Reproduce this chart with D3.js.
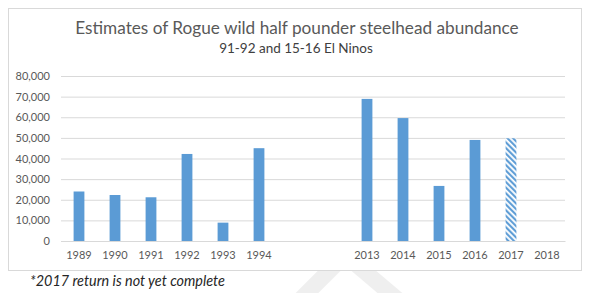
<!DOCTYPE html>
<html>
<head>
<meta charset="utf-8">
<script src="https://cdn.jsdelivr.net/npm/d3@7"></script>
<style>
  body { margin: 0; background: #fff; }
  svg { display: block; font-family: Lato, "Open Sans", sans-serif; }
</style>
</head>
<body>
<div id="root"></div>
<script>
const WIDTH = 590;
const HEIGHT = 293;

// slots: two empty ones between 1994 and 2013
const years = ["1989", "1990", "1991", "1992", "1993", "1994", "gap1", "gap2",
    "2013", "2014", "2015", "2016", "2017", "2018"];
const abundance = [24000, 22300, 21200, 42200, 8900, 45000, null, null,
    68900, 59600, 26700, 49000, 49800, null];
const incompleteYears = ["2017"];
const yTicks = [0, 10000, 20000, 30000, 40000, 50000, 60000, 70000, 80000];

const title = "Estimates of Rogue wild half pounder steelhead abundance";
const subtitle = "91-92 and 15-16 El Ninos";
const footnote = "*2017 return is not yet complete";

const data = years.map((y, i) => ({year: y, value: abundance[i]}))
    .filter(d => d.value !== null);

const xScale = d3.scaleBand()
    .domain(years)
    .range([61, 565])
    .paddingInner(0.7)
    .paddingOuter(0.35);

const yScale = d3.scaleLinear()
    .domain([0, 80000])
    .range([241, 76]);

const svg = d3.select("#root")
    .append("svg")
    .attr("width", WIDTH)
    .attr("height", HEIGHT);

// hatch for the incomplete year
const pattern = svg.append("defs")
    .append("pattern")
    .attr("id", "hatch")
    .attr("patternUnits", "userSpaceOnUse")
    .attr("width", 4)
    .attr("height", 4)
    .attr("patternTransform", "rotate(-45)");
pattern.append("rect")
    .attr("width", 4)
    .attr("height", 4)
    .attr("fill", "#fff");
pattern.append("line")
    .attr("x1", 1.1).attr("y1", 0)
    .attr("x2", 1.1).attr("y2", 4)
    .attr("stroke", "#5b9bd5")
    .attr("stroke-width", 2.1);

// faint watermark peeking out under the chart frame
svg.append("g")
    .attr("stroke", "#efefef")
    .attr("stroke-width", 16)
    .selectAll("line")
    .data([[345, 255, 290, 310], [345, 255, 410, 310]])
    .join("line")
    .attr("x1", d => d[0]).attr("y1", d => d[1])
    .attr("x2", d => d[2]).attr("y2", d => d[3]);

svg.append("rect")
    .attr("x", 8.5)
    .attr("y", 8.5)
    .attr("width", 573)
    .attr("height", 262)
    .attr("fill", "#fff")
    .attr("stroke", "#d9d9d9");

svg.append("text")
    .attr("x", 297)
    .attr("y", 34)
    .attr("text-anchor", "middle")
    .attr("font-size", 17.2)
    .attr("fill", "#595959")
    .text(title);

svg.append("text")
    .attr("x", 296)
    .attr("y", 53)
    .attr("text-anchor", "middle")
    .attr("font-size", 13.5)
    .attr("fill", "#404040")
    .text(subtitle);

// gridlines + y labels
const yAxis = d3.axisLeft(yScale)
    .tickValues(yTicks)
    .tickFormat(d3.format(","))
    .tickSize(-(565 - 61))
    .tickPadding(11);

const yAxisG = svg.append("g")
    .attr("transform", "translate(61, 0)")
    .call(yAxis);
yAxisG.select(".domain").remove();
yAxisG.selectAll(".tick line")
    .attr("stroke", "#d9d9d9")
    .attr("stroke-width", 1);
yAxisG.selectAll(".tick text")
    .attr("fill", "#595959")
    .attr("font-size", 11)
    .attr("font-family", "Lato, 'Open Sans', sans-serif");

svg.append("g")
    .selectAll("rect")
    .data(data)
    .join("rect")
    .attr("x", d => xScale(d.year))
    .attr("y", d => yScale(d.value))
    .attr("width", xScale.bandwidth())
    .attr("height", d => yScale(0) - yScale(d.value))
    .attr("fill", d => incompleteYears.includes(d.year) ? "url(#hatch)" : "#5b9bd5");

const xAxis = d3.axisBottom(xScale)
    .tickSize(0)
    .tickPadding(10)
    .tickFormat(d => d.startsWith("gap") ? "" : d);

const xAxisG = svg.append("g")
    .attr("transform", "translate(0, 241)")
    .call(xAxis);
xAxisG.select(".domain")
    .attr("stroke", "#d9d9d9");
xAxisG.selectAll(".tick text")
    .attr("fill", "#595959")
    .attr("font-size", 11)
    .attr("font-family", "Lato, 'Open Sans', sans-serif");

svg.append("text")
    .attr("x", 30)
    .attr("y", 286)
    .attr("font-size", 14.4)
    .attr("font-style", "italic")
    .attr("fill", "#262626")
    .text(footnote);
</script>
</body>
</html>
